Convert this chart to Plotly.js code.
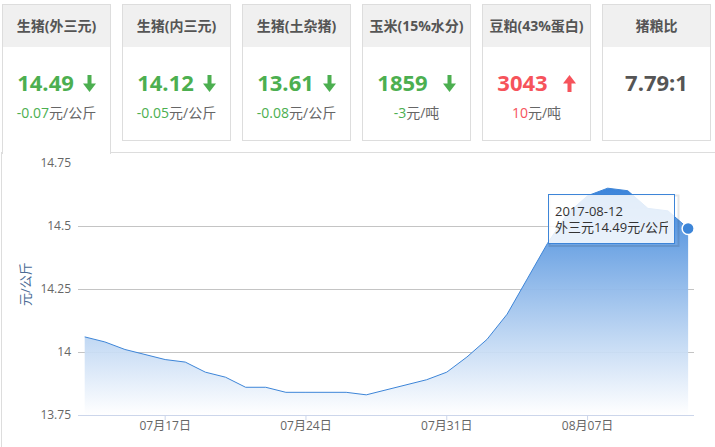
<!DOCTYPE html>
<html>
<head>
<meta charset="utf-8">
<script src="https://cdn.plot.ly/plotly-3.0.1.min.js"></script>
<style>
  html, body { margin:0; padding:0; background:#fff; }
  body { width:715px; height:447px; position:relative; overflow:hidden;
         font-family:'Open Sans','Noto Sans CJK SC',sans-serif; }
  .panel { position:absolute; left:1px; top:152px; width:730px; height:400px;
           border:1px solid #ddd; box-sizing:border-box; z-index:1; }
  .card { position:absolute; top:4px; width:109px; height:137px; box-sizing:border-box;
          border:1px solid #ddd; background:#fff; z-index:2; }
  .card.active { height:150px; border-bottom:none; }
  .card .hd { position:absolute; left:0; right:0; top:0; height:42px; line-height:42px;
              background:#f0f0f0; text-align:center; font-weight:bold; font-size:14px; color:#555; }
  .card .num { position:absolute; left:0; right:0; top:62px; height:30px; line-height:30px;
               text-align:center; font-weight:bold; font-size:22px; }
  .card .num svg { vertical-align:-1px; }
  .card .chg { position:absolute; left:0; right:0; top:98px; height:20px; line-height:20px;
               text-align:center; font-size:14px; color:#666; }
  #chart { position:absolute; left:0; top:0; width:715px; height:447px; z-index:3; }
</style>
</head>
<body>
<div class="panel"></div>
<div id="cards"></div>
<div id="chart"></div>
<script>
// ---- card data ----
const cardTitles  = ['生猪(外三元)', '生猪(内三元)', '生猪(土杂猪)', '玉米(15%水分)', '豆粕(43%蛋白)', '猪粮比'];
const cardValues  = ['14.49', '14.12', '13.61', '1859', '3043', '7.79:1'];
const cardChanges = ['-0.07', '-0.05', '-0.08', '-3', '10', ''];
const cardUnits   = ['元/公斤', '元/公斤', '元/公斤', '元/吨', '元/吨', ''];
const cardDirs    = ['down', 'down', 'down', 'down', 'up', 'none'];

// ---- chart data (外三元 price, 元/公斤) ----
const dates = ['2017-07-13','2017-07-14','2017-07-15','2017-07-16','2017-07-17','2017-07-18','2017-07-19',
               '2017-07-20','2017-07-21','2017-07-22','2017-07-23','2017-07-24','2017-07-25','2017-07-26',
               '2017-07-27','2017-07-28','2017-07-29','2017-07-30','2017-07-31','2017-08-01','2017-08-02',
               '2017-08-03','2017-08-04','2017-08-05','2017-08-06','2017-08-07','2017-08-08','2017-08-09',
               '2017-08-10','2017-08-11','2017-08-12'];
const prices = [14.06, 14.04, 14.01, 13.99, 13.97, 13.96, 13.92,
                13.90, 13.86, 13.86, 13.84, 13.84, 13.84, 13.84,
                13.83, 13.85, 13.87, 13.89, 13.92, 13.98, 14.05,
                14.15, 14.29, 14.43, 14.55, 14.62, 14.65, 14.64,
                14.57, 14.56, 14.49];
const xTickDates  = ['2017-07-17', '2017-07-24', '2017-07-31', '2017-08-07'];
const xTickLabels = ['07月17日', '07月24日', '07月31日', '08月07日'];
const yTickVals   = [13.75, 14, 14.25, 14.5, 14.75];
const yTickLabels = ['13.75', '14', '14.25', '14.5', '14.75'];
const seriesName  = '外三元';
const unitLabel   = '元/公斤';

// ---- build cards ----
const GREEN = '#4caf50', RED = '#f6535b', GREY = '#555';
function arrow(dir, color, gap) {
  const st = ' style="margin-left:' + gap + 'px"';
  if (dir === 'down')
    return '<svg' + st + ' width="13" height="17" viewBox="0 0 13 17"><rect x="4.5" y="0" width="4" height="10" fill="'+color+'"/><polygon points="0,8.5 13,8.5 6.5,17" fill="'+color+'"/></svg>';
  if (dir === 'up')
    return '<svg' + st + ' width="13" height="17" viewBox="0 0 13 17"><rect x="4.5" y="7" width="4" height="10" fill="'+color+'"/><polygon points="0,8.5 13,8.5 6.5,0" fill="'+color+'"/></svg>';
  return '';
}
const cardsEl = document.getElementById('cards');
cardTitles.forEach((t, i) => {
  const dir = cardDirs[i];
  const col = dir === 'down' ? GREEN : (dir === 'up' ? RED : GREY);
  const d = document.createElement('div');
  d.className = 'card' + (i === 0 ? ' active' : '');
  d.style.left = (2 + 120 * i) + 'px';
  let html = '<div class="hd">' + t + '</div>';
  html += '<div class="num" style="color:' + col + '">' + cardValues[i] + arrow(dir, col, i < 3 ? 9 : 15) + '</div>';
  if (cardChanges[i] !== '')
    html += '<div class="chg"><span style="color:' + col + '">' + cardChanges[i] + '</span>' + cardUnits[i] + '</div>';
  d.innerHTML = html;
  cardsEl.appendChild(d);
});

// ---- chart ----
const FONT = "'Open Sans','Noto Sans CJK SC',sans-serif";
const LINE = '#3d85d8';
const last = dates.length - 1;
const PX = (px) => (px - 78) / 616;      // page x -> paper x
const PY = (py) => (415 - py) / 252;     // page y -> paper y

const area = {
  x: dates, y: prices, type: 'scatter', mode: 'lines',
  line: { color: LINE, width: 1 },
  fill: 'tozeroy',
  fillgradient: { type: 'vertical', start: 13.75, stop: 14.65,
                  colorscale: [[0, 'rgba(255,255,255,0.9)'], [1, 'rgba(59,132,218,1)']] },
  hoverinfo: 'skip'
};
const point = {
  x: [dates[last]], y: [prices[last]], type: 'scatter', mode: 'markers',
  marker: { size: 12, color: LINE, line: { color: '#fff', width: 1.5 } },
  cliponaxis: false, hoverinfo: 'skip'
};

// x tick marks (downward, 5px) at the tick dates
const tickShapes = xTickDates.map(d => ({
  type: 'line', xref: 'x', yref: 'paper', x0: d, x1: d, y0: 0, y1: -5 / 252,
  line: { color: '#ccd6eb', width: 1 }
}));

const layout = {
  width: 715, height: 447,
  margin: { l: 78, r: 21, t: 163, b: 32, pad: 0 },
  paper_bgcolor: 'rgba(0,0,0,0)', plot_bgcolor: 'rgba(0,0,0,0)',
  showlegend: false,
  font: { family: FONT, size: 12, color: '#666' },
  xaxis: {
    type: 'date', range: ['2017-07-12 16:00', '2017-08-12 07:00'],
    tickmode: 'array', tickvals: xTickDates, ticktext: xTickLabels,
    showgrid: false, zeroline: false,
    showline: true, linecolor: '#ccd6eb', linewidth: 1,
    ticks: '',
    tickfont: { family: FONT, size: 12, color: '#666' }
  },
  yaxis: {
    range: [13.75, 14.75],
    tickmode: 'array', tickvals: yTickVals, ticktext: yTickLabels,
    showgrid: true, gridcolor: '#c4c4c4', gridwidth: 1,
    zeroline: false, showline: false, ticks: '',
    ticklabelstandoff: 6,
    tickfont: { family: FONT, size: 12, color: '#666' }
  },
  shapes: tickShapes.concat([
    { type: 'rect', xref: 'paper', yref: 'paper', layer: 'above',
      x0: PX(549.5), x1: PX(678.5), y0: PY(246), y1: PY(195.5),
      line: { color: 'rgba(0,0,0,0.10)', width: 2 }, fillcolor: 'rgba(0,0,0,0)' }
  ]),
  annotations: [
    { xref: 'paper', yref: 'paper', x: PX(25), y: PY(284),
      text: unitLabel, textangle: -90, showarrow: false,
      xanchor: 'center', yanchor: 'middle',
      font: { family: FONT, size: 13, color: '#4a6a94' } },
    { xref: 'paper', yref: 'paper', x: PX(548.3), y: PY(194.3),
      xanchor: 'left', yanchor: 'top', showarrow: false, align: 'left', valign: 'middle',
      width: 113, height: 36,
      text: dates[last] + '<br>' + seriesName + prices[last].toFixed(2) + unitLabel,
      bgcolor: 'rgba(255,255,255,0.85)', bordercolor: LINE, borderwidth: 1, borderpad: 6,
      font: { family: FONT, size: 13, color: '#333' } }
  ]
};

Plotly.newPlot('chart', [area, point], layout, { staticPlot: true, displayModeBar: false });
</script>
</body>
</html>
